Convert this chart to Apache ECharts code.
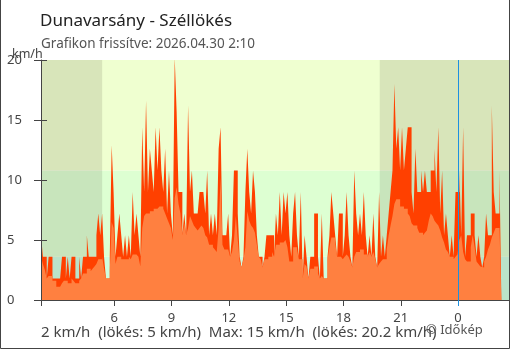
<!DOCTYPE html>
<html>
<head>
<meta charset="utf-8">
<script src="https://cdn.jsdelivr.net/npm/echarts@6/dist/echarts.min.js"></script>
<style>
  html, body { margin: 0; padding: 0; background: #fff; }
  #chart { width: 510px; height: 350px; }
</style>
</head>
<body>
<div id="chart"></div>
<script>
// Time axis in hours since the previous midnight; one sample every 6 minutes from 2:10.
const START_H = 2 + 10 / 60;
const STEP_H = 0.1;
const END_H = 26.667;

// Wind gust (km/h), 6-minute samples
const gust = [
  5.4, 3.6, 3.6, 1.8, 3.6, 3.6, 1.8, 1.8, 1.8, 1.8,
  1.8, 3.6, 3.6, 1.8, 3.6, 1.8, 3.6, 3.6, 1.8, 1.8,
  3.6, 1.8, 3.6, 3.6, 5.4, 3.6, 3.6, 3.6, 3.6, 5.4,
  7.2, 5.4, 7.2, 3.6, 1.8, 1.8, 3.6, 12.9, 9.0, 3.6,
  5.4, 7.2, 5.4, 3.6, 5.4, 3.6, 5.4, 3.6, 9.0, 5.4,
  7.2, 5.4, 3.6, 14.4, 9.0, 16.6, 9.0, 12.6, 10.8, 9.0,
  14.4, 10.8, 14.4, 10.8, 9.0, 12.6, 7.2, 10.8, 7.2, 5.4,
  20.2, 15.7, 9.0, 9.0, 5.4, 7.2, 5.4, 16.2, 9.0, 10.8,
  7.2, 7.2, 7.2, 9.0, 9.0, 9.0, 7.2, 10.8, 5.4, 7.2,
  5.4, 7.2, 5.4, 12.6, 14.4, 5.4, 5.4, 5.4, 7.2, 3.6,
  5.4, 10.8, 10.8, 7.2, 3.6, 2.7, 3.6, 9.0, 12.6, 9.0,
  7.2, 10.8, 9.0, 5.4, 3.6, 3.6, 2.7, 3.6, 5.4, 5.4,
  5.4, 5.4, 3.6, 7.2, 5.4, 9.0, 5.4, 9.0, 7.2, 9.0,
  5.4, 3.6, 7.2, 9.0, 5.4, 3.6, 9.0, 1.8, 5.4, 3.6,
  1.8, 3.6, 3.6, 7.2, 7.2, 3.6, 1.8, 7.2, 1.8, 1.8,
  3.6, 5.4, 9.0, 7.2, 5.4, 3.6, 7.2, 7.2, 3.6, 5.4,
  9.0, 5.4, 3.6, 2.7, 10.8, 7.2, 5.4, 7.2, 5.4, 9.0,
  5.4, 3.6, 5.4, 3.6, 7.2, 3.6, 2.7, 9.0, 3.6, 5.4,
  3.6, 5.4, 7.2, 9.0, 10.8, 18.0, 12.6, 14.4, 10.8, 14.4,
  10.8, 12.6, 14.4, 14.4, 9.0, 7.2, 12.6, 9.0, 9.0, 10.8,
  9.0, 10.8, 9.0, 9.0, 10.8, 10.8, 12.6, 9.0, 14.4, 7.2,
  10.8, 5.4, 7.2, 5.4, 3.6, 5.4, 3.6, 9.0, 9.0, 10.8,
  5.4, 14.4, 3.6, 5.4, 5.4, 7.2, 7.2, 5.4, 3.6, 5.4,
  3.6, 2.7, 3.6, 7.2, 5.4, 5.4, 16.2, 9.0, 7.2, 7.2,
  10.8
];

// Mean wind speed (km/h), same sampling
const wind = [
  3.6, 3.0, 2.5, 1.8, 2.0, 2.0, 1.6, 1.6, 1.1, 1.1,
  1.2, 1.4, 1.6, 1.6, 1.4, 1.4, 1.8, 1.6, 1.4, 1.4,
  1.6, 1.8, 2.2, 2.2, 2.6, 2.6, 2.4, 2.6, 2.8, 3.0,
  3.4, 3.4, 3.6, 2.6, 1.8, 1.8, 2.4, 6.5, 6.0, 3.0,
  3.6, 3.6, 3.4, 3.4, 3.4, 3.4, 3.6, 3.4, 3.8, 3.8,
  3.8, 3.6, 2.8, 6.0, 7.0, 7.2, 7.2, 7.4, 7.4, 7.6,
  7.6, 7.6, 7.8, 7.8, 7.6, 7.2, 6.8, 6.4, 6.0, 5.0,
  8.5, 9.4, 8.0, 7.2, 5.4, 6.4, 5.4, 6.0, 7.0, 6.6,
  6.2, 6.0, 5.8, 6.0, 6.2, 6.0, 5.4, 5.2, 4.6, 4.6,
  4.4, 4.2, 4.0, 6.0, 10.2, 4.6, 4.2, 4.2, 4.2, 3.6,
  4.0, 5.0, 7.0, 5.0, 3.2, 2.7, 3.4, 4.4, 7.4, 6.6,
  6.2, 6.0, 5.6, 4.6, 3.6, 3.4, 2.7, 3.4, 3.4, 3.6,
  3.6, 4.0, 3.6, 4.6, 4.6, 4.8, 4.8, 4.8, 5.0, 4.4,
  3.2, 3.2, 4.4, 4.4, 4.2, 3.4, 3.4, 1.8, 3.0, 2.8,
  1.8, 2.6, 2.6, 2.8, 2.8, 2.2, 1.8, 2.0, 1.8, 1.8,
  3.4, 4.4, 5.2, 5.2, 4.8, 3.6, 3.6, 3.6, 3.4, 3.6,
  3.8, 3.6, 3.2, 2.7, 3.6, 4.0, 4.0, 4.2, 4.2, 3.8,
  3.8, 3.6, 4.0, 3.6, 4.0, 3.4, 2.7, 3.0, 3.2, 3.4,
  3.4, 4.2, 5.4, 6.2, 7.0, 8.0, 8.4, 8.4, 7.8, 7.8,
  7.6, 7.6, 7.2, 7.0, 6.4, 6.2, 6.2, 6.0, 5.6, 5.6,
  5.4, 5.6, 5.8, 6.6, 7.2, 7.0, 6.6, 6.4, 6.2, 5.8,
  5.2, 4.8, 4.2, 4.0, 3.6, 3.6, 3.4, 3.6, 3.8, 5.0,
  5.4, 4.0, 3.4, 3.2, 3.2, 4.4, 5.4, 4.4, 3.2, 3.0,
  2.8, 2.7, 3.2, 3.6, 4.2, 4.6, 5.2, 5.6, 6.0, 6.0,
  6.2
];

// Axis ticks and labels
const tickHours = [6, 9, 12, 15, 18, 21, 24];
const tickLabels = ['6', '9', '12', '15', '18', '21', '0'];
const midnight = 24;

// Wind strength bands (km/h) and night periods (hours)
const bandLimits = [[0, 3.6], [3.6, 10.8], [10.8, 20]];
const bandColors = ['#cdfde0', '#ddffd2', '#efffd0'];
const nights = [[START_H, 5.37], [19.9, END_H]];

const FONT = 'Noto Sans';

// Each sample holds its value for one sampling step: emit both corners of the step.
function stepSeries(values) {
  const pts = [];
  values.forEach((v, i) => {
    pts.push([START_H + i * STEP_H, v]);
    pts.push([START_H + (i + 1) * STEP_H, v]);
  });
  return pts;
}

const chart = echarts.init(document.getElementById('chart'));

const bandAreas = bandLimits.map((b, k) => [
  { xAxis: START_H, yAxis: b[0], itemStyle: { color: bandColors[k] } },
  { xAxis: END_H, yAxis: b[1] }
]);
const nightAreas = nights.map(n => [
  { xAxis: n[0], yAxis: 0, itemStyle: { color: 'rgba(20,0,0,0.1)' } },
  { xAxis: n[1], yAxis: 20 }
]);

chart.setOption({
  animation: false,
  backgroundColor: '#ffffff',
  textStyle: { fontFamily: FONT },
  title: [
    { text: 'Dunavarsány - Széllökés', left: 35, top: 8,
      textStyle: { fontFamily: FONT, fontSize: 17, fontWeight: 'normal', color: '#222' } },
    { text: 'Grafikon frissítve: 2026.04.30 2:10', left: 36, top: 32,
      textStyle: { fontFamily: FONT, fontSize: 13.5, fontWeight: 'normal', color: '#555' } },
    { text: 'km/h', left: 7, top: 43,
      textStyle: { fontFamily: FONT, fontSize: 12.5, fontWeight: 'normal', color: '#444' } },
    { text: '2 km/h  (lökés: 5 km/h)  Max: 15 km/h  (lökés: 20.2 km/h)', left: 36, top: 320,
      textStyle: { fontFamily: FONT, fontSize: 15, fontWeight: 'normal', color: '#444' } },
    { text: '© Időkép', left: 421, top: 319,
      textStyle: { fontFamily: FONT, fontSize: 13, fontWeight: 'normal', color: '#555' } }
  ],
  grid: { left: 41, right: 1, top: 60, bottom: 50 },
  xAxis: [
    {
      type: 'value', min: START_H, max: END_H, z: 10,
      axisLine: { show: true, lineStyle: { color: '#444', width: 1 } },
      axisTick: { show: true, length: 6, customValues: [START_H].concat(tickHours),
        lineStyle: { color: '#444' } },
      axisLabel: { show: true, customValues: tickHours, margin: 12, fontSize: 13, color: '#444',
        fontFamily: FONT,
        formatter: v => tickLabels[tickHours.indexOf(Math.round(v))] },
      splitLine: { show: false }
    },
    {
      type: 'value', min: START_H, max: END_H, position: 'bottom', z: 11,
      axisLine: { show: false },
      axisTick: { show: true, length: 6, customValues: [midnight], lineStyle: { color: '#1e90e0' } },
      axisLabel: { show: false },
      splitLine: { show: false }
    }
  ],
  yAxis: [
    {
      type: 'value', min: 0, max: 20, interval: 5, z: 10,
      axisLine: { show: true, lineStyle: { color: '#444', width: 1 } },
      axisTick: { show: true, inside: false, length: 7, lineStyle: { color: '#444' } },
      axisLabel: {
        show: true, margin: 12, fontSize: 13, color: '#444', fontFamily: FONT,
        formatter: v => '{n|' + v + '}',
        rich: { n: { width: 22, align: 'left', fontSize: 13, color: '#444', fontFamily: FONT } }
      },
      splitLine: { show: false }
    },
    {
      type: 'value', min: 0, max: 20, interval: 5, position: 'left', z: 10,
      axisLine: { show: false },
      axisTick: { show: true, inside: true, length: 6, lineStyle: { color: '#444' } },
      axisLabel: { show: false },
      splitLine: { show: false }
    }
  ],
  series: [
    {
      name: 'háttér', type: 'line', data: [], z: 1, silent: true,
      markArea: { silent: true, data: bandAreas.concat(nightAreas) }
    },
    {
      name: 'Széllökés', type: 'line', symbol: 'none', z: 3,
      data: stepSeries(gust),
      lineStyle: { width: 0 },
      areaStyle: { color: '#ff4000', opacity: 1 }
    },
    {
      name: 'Szél', type: 'line', symbol: 'none', z: 4,
      data: stepSeries(wind),
      lineStyle: { width: 0 },
      areaStyle: { color: '#ff8040', opacity: 1 },
      markLine: {
        silent: true, symbol: 'none', label: { show: false },
        lineStyle: { color: '#1e90e0', width: 1, type: 'solid' },
        data: [{ xAxis: midnight }]
      }
    }
  ],
  graphic: [
    { type: 'polyline', silent: true,
      shape: { points: [[0.5, 0], [0.5, 348.5], [509.5, 348.5], [509.5, 0]] },
      style: { stroke: '#444', lineWidth: 1, fill: null } }
  ]
});
</script>
</body>
</html>
